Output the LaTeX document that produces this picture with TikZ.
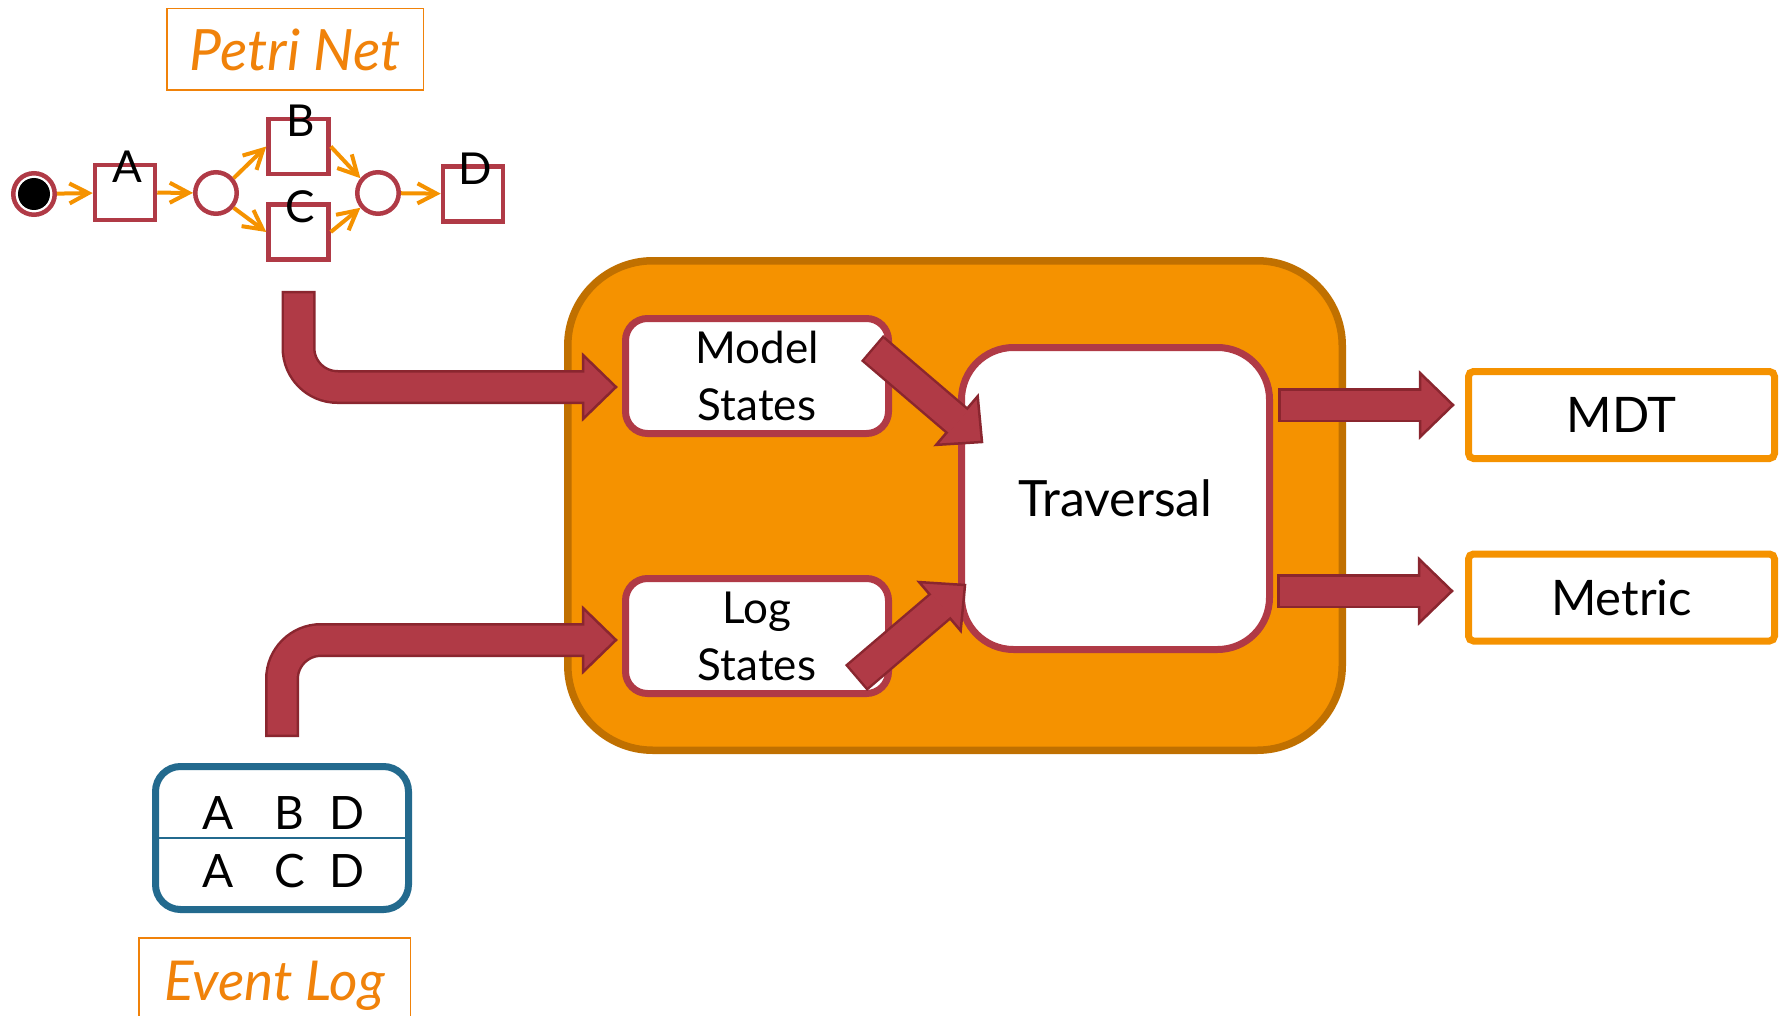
\documentclass[tikz,border=0pt]{standalone}
\usepackage{fontspec}
\setmainfont{Lato}
\usetikzlibrary{calc,arrows.meta}

\definecolor{corefill}{RGB}{245,146,0}
\definecolor{coreedge}{RGB}{192,112,0}
\definecolor{redbox}{RGB}{176,58,70}
\definecolor{redline}{RGB}{138,38,47}
\definecolor{logblue}{RGB}{35,106,142}
\definecolor{tagorange}{RGB}{240,130,10}

\tikzset{
  place/.style={circle,draw=redbox,fill=white,line width=4.5pt,minimum size=41.5pt,inner sep=0pt},
  trans/.style={rectangle,draw=redbox,fill=white,line width=4.5pt,minimum width=60pt,minimum height=55pt,inner sep=0pt},
  flow/.style={draw=corefill,line width=4pt,-{Straight Barb[length=19pt,width=20pt]}},
  tlabel/.style={anchor=center,inner sep=0pt,xshift=2pt,yshift=-4pt,font=\fontsize{44}{44}\selectfont},
  tag/.style={draw=tagorange,line width=1.5pt,text=tagorange,text depth=0pt,font=\fontsize{57}{57}\selectfont\itshape},
  statebox/.style={draw=redbox,fill=white,line width=7pt,rounded corners=22pt,minimum width=263pt,minimum height=115pt,align=center,font=\fontsize{44}{57}\selectfont},
  travbox/.style={statebox,rounded corners=52pt,minimum width=308pt,minimum height=302pt,font=\fontsize{50}{50}\selectfont},
  outbox/.style={draw=corefill,fill=white,line width=7pt,rounded corners=5pt,minimum width=306pt,minimum height=87pt,font=\fontsize{49}{49}\selectfont},
  evtext/.style={anchor=base,inner sep=0pt,font=\fontsize{46}{46}\selectfont},
  shaftout/.style={draw=redline,line width=34pt,rounded corners=39pt},
  shaftin/.style={draw=redbox,line width=29pt,rounded corners=39pt,shorten <=2.5pt,shorten >=-2pt},
  headfill/.style={fill=redbox,draw=redline,line width=2.5pt,line join=miter},
}

\newcommand\blockarrow[3]{%
  \coordinate (hb) at ($(#3)!33pt!(#2)$);
  \draw[shaftout] #1 -- (hb);
  \filldraw[headfill] ($(hb)!32pt!90:(#3)$) -- (#3) -- ($(hb)!32pt!-90:(#3)$) -- cycle;
  \draw[shaftin] #1 -- (hb);
}

\begin{document}
\begin{tikzpicture}[x=1pt,y=-1pt]
  \useasboundingbox (0,0) rectangle (1784,1016);
  \clip (0,0) rectangle (1784,1016);

  % petri net
  \node[tag,minimum width=256.5pt,minimum height=81.5pt] (pn) at (295,49.5) {Petri Net};
  \node[place] (p0) at (34,194) {};
  \fill (p0) circle (16pt);
  \node[trans,label={[tlabel]north:A}] (A) at (125,192.5) {};
  \node[place] (p1) at (216,193) {};
  \node[trans,label={[tlabel]north:B}] (B) at (298.5,146.5) {};
  \node[trans,label={[tlabel]north:C}] (C) at (298.5,232) {};
  \node[place] (p2) at (378,193) {};
  \node[trans,label={[tlabel]north:D}] (D) at (473,194) {};
  \draw[flow] (p0) -- (A);
  \draw[flow] (A) -- (p1);
  \draw[flow] (p1.40) -- (B.west);
  \draw[flow] (p1.-40) -- (C.west);
  \draw[flow] (B.east) -- (p2.140);
  \draw[flow] (C.east) -- (p2.-140);
  \draw[flow] (p2) -- (D);

  % event log
  \node[draw=logblue,fill=white,line width=7pt,rounded corners=25pt,minimum width=253pt,minimum height=143pt] (ev) at (282,838) {};
  \draw[logblue,line width=2pt] (ev.west) -- (ev.east);
  \foreach \a/\b/\x in {A/A/218,B/C/289.5,D/D/347}{
    \node[evtext] (ev1-\a) at (\x,829) {\a};
    \node[evtext] (ev2-\b) at (\x,887) {\b};
  }
  \node[tag,font=\fontsize{55}{55}\selectfont\itshape,minimum width=271.5pt,minimum height=86.5pt] (el) at (274.5,981) {Event Log};

  % conformance core
  \node[draw=coreedge,fill=corefill,line width=7.5pt,rounded corners=85pt,minimum width=774.5pt,minimum height=489.5pt] (core) at (955,505.5) {};
  \node[statebox] (ms) at (757,376) {Model\\States};
  \node[statebox] (ls) at (757,636) {Log\\States};
  \node[travbox] (tr) at (1115.5,498.5) {Traversal};
  \node[outbox] (mdt) at (1621.5,415) {MDT};
  \node[outbox] (met) at (1621.5,597.5) {Metric};

  \coordinate (pn-out) at ($(C.south)+(0,29)$);
  \coordinate (ms-in) at ($(ms.west)+(-6,11)$);
  \coordinate (pn-bend) at (pn-out |- ms-in);
  \blockarrow{(pn-out) -- (pn-bend)}{pn-bend}{ms-in}

  \coordinate (ev-out) at ($(ev.north)+(0,-26)$);
  \coordinate (ls-in) at ($(ls.west)+(-6,4)$);
  \coordinate (ev-bend) at (ev-out |- ls-in);
  \blockarrow{(ev-out) -- (ev-bend)}{ev-bend}{ls-in}

  \coordinate (ms-out) at ($(ms.east)+(-20,-28)$);
  \coordinate (tr-in1) at ($(tr.west)+(24,-56.5)$);
  \blockarrow{(ms-out)}{ms-out}{tr-in1}
  \coordinate (ls-out) at ($(ls.east)+(-36,42)$);
  \coordinate (tr-in2) at ($(tr.west)+(7,86.5)$);
  \blockarrow{(ls-out)}{ls-out}{tr-in2}

  \coordinate (mdt-in) at ($(mdt.west)+(-12,-10)$);
  \coordinate (tr-out1) at ($(tr.east |- mdt-in)+(5,0)$);
  \blockarrow{(tr-out1)}{tr-out1}{mdt-in}
  \coordinate (met-in) at ($(met.west)+(-13,-6.5)$);
  \coordinate (tr-out2) at ($(tr.east |- met-in)+(4,0)$);
  \blockarrow{(tr-out2)}{tr-out2}{met-in}
\end{tikzpicture}
\end{document}
